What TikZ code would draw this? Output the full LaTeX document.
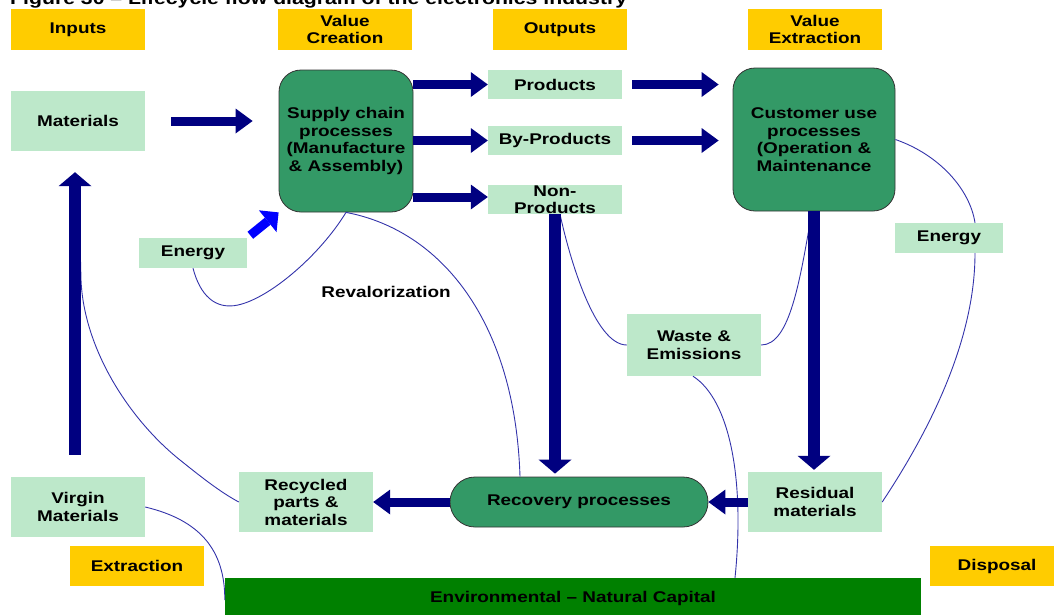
\documentclass[tikz,border=0pt]{standalone}
\usepackage{fontspec}
\setmainfont{Liberation Sans}[FakeStretch=1.22]
\usetikzlibrary{arrows.meta}
\definecolor{ylw}{HTML}{FFCC00}
\definecolor{lgreen}{HTML}{BDE8CA}
\definecolor{pgreen}{HTML}{339966}
\definecolor{dgreen}{HTML}{008000}
\definecolor{navyc}{HTML}{000080}
\definecolor{thinc}{HTML}{3333AA}
\definecolor{bblue}{HTML}{0000FF}
\tikzset{
  txt/.style={inner sep=0pt, align=center, font=\bfseries\fontsize{15.5}{17.5}\selectfont},
  ybox/.style={txt, fill=ylw, minimum width=134pt, minimum height=41pt},
  gbox/.style={txt, fill=lgreen, minimum width=134pt, minimum height=60pt},
  pbox/.style={txt, fill=pgreen, draw=black!80, line width=0.8pt},
  thinline/.style={draw=thinc, line width=0.9pt},
  harrow/.style={draw=navyc, line width=9pt, -{Triangle[length=17pt,width=25pt,line width=0pt]}},
  varrow/.style={draw=navyc, line width=12pt, -{Triangle[length=14pt,width=33pt,line width=0pt]}},
  earrow/.style={draw=bblue, line width=9pt, -{Triangle[length=14pt,width=28pt,line width=0pt]}}
}
\begin{document}
\begin{tikzpicture}[x=1pt,y=-1pt]
\useasboundingbox (0,0) rectangle (1054,614);
% title (partly cut off at the top, as in the reference)
\node[anchor=base west, inner sep=0pt, font=\bfseries\fontsize{17.4}{19}\selectfont] (title) at (10,4) {Figure 30 -- Lifecycle flow diagram of the electronics industry};
% header boxes
\node[ybox] (inputs) at (78,29.5) {Inputs};
\node[ybox] (vcreat) at (345,29.5) {Value\\Creation};
\node[ybox] (outputs) at (560,29.5) {Outputs};
\node[ybox] (vextr) at (815,29.5) {Value\\Extraction};
% main nodes
\node[gbox] (materials) at (78,121) {Materials};
\node[pbox, minimum width=134pt, minimum height=142pt, rounded corners=22pt] (supply) at (346,141) {Supply chain\\processes\\(Manufacture\\\& Assembly)};
\node[gbox, minimum height=29pt] (prod) at (555,84.5) {Products};
\node[gbox, minimum height=29pt] (byprod) at (555,140.5) {By-Products};
\node[gbox, minimum height=29pt] (nonprod) at (555,199.5) {Non-\\Products};
\node[pbox, minimum width=162pt, minimum height=143pt, rounded corners=22pt] (customer) at (814,139.5) {Customer use\\processes\\(Operation \&\\Maintenance};
\node[gbox, minimum width=108pt, minimum height=30pt] (energyL) at (193,253) {Energy};
\node[gbox, minimum width=108pt, minimum height=30pt] (energyR) at (949,238) {Energy};
\node[txt] (reval) at (386,292) {Revalorization};
\node[gbox, minimum height=62pt] (waste) at (694,345) {Waste \&\\Emissions};
\node[gbox] (virgin) at (78,507) {Virgin\\Materials};
\node[gbox] (recycled) at (306,502) {Recycled\\parts \&\\materials};
\node[pbox, minimum width=258pt, minimum height=50pt, rounded corners=25pt] (recovery) at (579,502) {Recovery processes};
\node[gbox] (residual) at (815,502) {Residual\\materials};
\node[ybox, minimum height=40pt] (extraction) at (137,566) {Extraction};
\node[ybox, minimum height=40pt] (disposal) at (997,566) {Disposal};
\node[txt, fill=dgreen, minimum width=696pt, minimum height=40pt] (env) at (573,598) {Environmental -- Natural Capital};
% thin connecting curves
\coordinate (matline) at (79,200);
\draw[thinline] (energyL.south) .. controls (200,295) and (215,310) .. (238,305)
  .. controls (270,298) and (320,255) .. (supply.south);
\draw[thinline] (supply.south) .. controls (440,230) and (515,320) .. ([xshift=-59pt]recovery.north);
\draw[thinline] ([xshift=5pt]nonprod.south) .. controls (570,260) and (595,345) .. (waste.west);
\draw[thinline] (waste.east) .. controls (790,345) and (800,280) .. ([xshift=-2pt]customer.south);
\draw[thinline] ([xshift=-1pt]waste.south) .. controls (730,400) and (745,480) .. ([xshift=162pt]env.north);
\draw[thinline] (customer.east) .. controls (940,155) and (970,190) .. ([xshift=26pt]energyR.north);
\draw[thinline] ([xshift=26pt]energyR.south) .. controls (975,340) and (930,430) .. (residual.east);
\draw[thinline] (matline) -- (81,280) .. controls (84,350) and (130,420) .. (180,460)
  .. controls (200,476) and (220,492) .. (recycled.west);
\draw[thinline] (virgin.east) .. controls (200,520) and (225,550) .. ([yshift=-2pt]env.west);
% block arrows
\draw[harrow, shorten <=26pt, shorten >=26pt] (materials.east) -- (supply.west |- materials.east);
\draw[harrow] (supply.east |- prod.west) -- (prod.west);
\draw[harrow] (supply.east |- byprod.west) -- (byprod.west);
\draw[harrow] (supply.east |- {0,197}) -- (nonprod.west |- {0,197});
\draw[harrow, shorten <=10pt, shorten >=14pt] (prod.east) -- (customer.west |- prod.east);
\draw[harrow, shorten <=10pt, shorten >=14pt] (byprod.east) -- (customer.west |- byprod.east);
\draw[varrow, shorten >=3pt] (nonprod.south) -- (nonprod.south |- recovery.north);
\draw[varrow, shorten >=2pt] (customer.south) -- (customer.south |- residual.north);
\draw[harrow] (residual.west) -- (recovery.east);
\draw[harrow] (recovery.west) -- (recycled.east);
\draw[varrow, shorten <=22pt, shorten >=21pt] ([xshift=-3pt]virgin.north) -- ([xshift=-3pt]materials.south);
\draw[earrow, shorten <=4pt] (energyL.north east) -- (supply.south west);
\end{tikzpicture}
\end{document}
